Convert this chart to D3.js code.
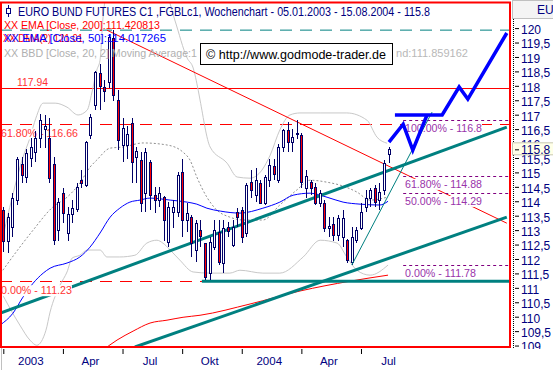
<!DOCTYPE html>
<html>
<head>
<meta charset="utf-8">
<script src="https://cdn.jsdelivr.net/npm/d3@7"></script>
<style>
  body { margin: 0; background: #fff; }
  svg { display: block; font-family: "Liberation Sans", Arial, sans-serif; }
</style>
</head>
<body>
<svg width="553" height="370"></svg>
<script>
// weekly candles, index 0 = week of 05.01.2003
const opens = [113.68,112.6,113.1,114.03,115.28,114.83,115.48,115.7,116.17,116.5,116.17,115.28,113.0,114.27,112.9,113.55,113.72,114.72,114.55,116.28,117.32,118.43,117.95,118.1,119.64,117.49,115.93,115.93,116.7,115.52,115.42,114.27,115.35,114.2,114.03,114.13,112.57,113.62,113.62,115.0,113.34,113.44,112.3,113.0,112.54,111.5,112.4,112.92,111.85,113.1,112.47,113.6,113.68,112.89,114.65,114.2,114.62,113.93,114.72,115.2,114.72,115.87,116.45,116.04,116.3,116.28,114.45,114.65,114.48,113.93,113.93,113.06,113.2,112.82,112.75,112.64,111.88,112.64,113.06,113.79,114.1,114.45,114.03,114.38,115.63];
const highs = [113.8,113.6,114.3,115.55,115.55,115.8,116.2,116.45,117.04,117.0,116.87,115.52,114.13,114.45,113.79,114.03,114.62,115.07,116.1,117.04,118.53,118.77,118.2,119.78,119.92,117.84,116.9,116.6,116.87,115.87,115.7,115.83,115.42,114.48,114.48,114.17,113.96,114.03,115.0,115.48,113.93,113.51,113.34,113.34,112.57,112.75,113.34,113.34,113.34,113.27,113.34,113.75,113.79,114.62,115.07,115.14,114.72,114.9,115.48,115.48,116.0,116.52,116.73,116.52,116.8,116.35,115.07,114.72,114.62,114.38,114.03,113.44,113.44,113.51,113.68,112.7,113.1,113.1,113.93,114.38,114.45,114.55,114.65,115.42,115.87];
const lows = [112.24,112.2,112.75,113.86,114.62,114.62,115.17,115.35,115.83,115.85,114.62,112.47,112.64,113.23,112.64,113.23,113.62,114.45,114.48,116.17,117.15,117.15,117.45,117.94,117.49,115.76,115.35,115.45,114.62,114.62,113.62,113.62,113.68,113.58,113.79,112.64,112.4,113.06,113.44,112.75,112.92,112.06,111.88,112.4,111.26,111.26,112.3,111.78,111.5,112.75,112.4,113.1,112.57,112.75,114.13,113.96,113.93,113.86,114.48,114.72,114.65,115.7,115.7,115.7,116.17,114.45,114.13,114.2,113.86,113.79,112.92,112.75,112.64,112.64,112.4,111.85,111.78,112.54,112.99,113.62,113.79,113.79,113.68,114.2,115.31];
const closes = [112.59,113.45,114.1,115.45,114.9,115.66,115.87,116.17,116.8,116.6,114.79,112.64,113.96,113.58,113.55,113.75,114.48,114.62,116.04,116.9,118.46,117.98,117.8,119.67,117.67,116.11,116.52,116.3,115.35,115.73,113.93,115.7,114.2,114.03,114.27,113.34,113.79,113.79,114.9,113.34,113.58,112.54,113.23,112.78,111.37,112.57,113.0,111.88,113.06,112.96,113.1,113.44,112.75,114.55,114.38,114.72,113.93,114.83,115.24,114.93,115.87,116.45,116.04,116.2,116.36,114.65,114.86,114.45,113.93,114.27,113.06,113.13,112.82,113.4,113.4,111.95,112.75,113.0,113.62,114.1,114.38,113.96,114.3,115.31,115.8];

// indicator lines as [week index, price]
const bbUpper = [[-0.7,112.31],[1.0,113.52],[2.6,114.56],[4.1,115.43],[5.8,116.19],[7.1,116.88],[8.7,117.4],[11.3,117.4],[13.9,117.26],[16.3,116.99],[18.3,117.16],[19.3,117.75],[20.4,118.55],[21.1,118.89],[21.7,120.28],[23.3,121.67],[29.8,122.01],[35.3,121.32],[37.4,120.28],[40.1,118.96],[41.4,118.62],[42.5,117.85],[42.9,117.51],[45.1,115.88],[48.8,115.32],[51.0,114.84],[53.8,114.8],[56.4,115.08],[58.2,115.6],[60.3,116.47],[62.5,116.99],[64.7,117.06],[69.1,117.06],[74.9,117.06],[79.3,116.81],[81.5,116.22],[83.7,116.01]];
const bbLower = [[-0.7,110.92],[3.6,109.71],[5.8,109.19],[7.3,109.01],[9.3,109.53],[10.2,110.16],[12.4,111.1],[13.9,111.55],[15.0,112.03],[16.7,112.13],[18.3,112.31],[21.1,112.31],[22.6,112.07],[25.4,112.07],[28.7,112.13],[31.3,112.55],[33.5,112.65],[34.8,112.55],[36.4,112.31],[38.5,111.96],[41.4,111.55],[45.1,111.51],[49.4,111.51],[51.6,111.61],[56.6,111.51],[60.3,111.51],[65.4,112.07],[69.1,112.65],[72.8,112.55],[74.9,112.07],[77.1,111.61],[80.0,111.44],[83.9,111.79]];
const bbMiddle = [[-0.1,111.61],[3.6,112.41],[6.5,113.0],[10.8,113.8],[13.9,114.14],[16.7,114.63],[18.9,115.18],[20.4,115.43],[23.3,115.84],[26.1,115.88],[30.5,116.02],[35.7,115.95],[39.2,115.7],[40.7,115.43],[42.2,114.84],[44.4,114.14],[46.6,113.69],[49.4,113.45],[52.3,113.35],[56.6,113.35],[60.3,113.87],[64.0,114.39],[66.9,114.73],[70.6,114.66],[73.4,114.56],[77.1,114.32],[80.0,114.04],[83.7,114.14]];
const ema50 = [[-0.7,109.71],[2.1,110.12],[4.3,110.68],[6.5,111.16],[8.7,111.51],[10.2,111.68],[13.9,111.86],[16.7,112.07],[18.9,112.41],[21.1,112.9],[23.3,113.45],[25.4,113.76],[27.6,113.97],[29.8,114.04],[32.0,114.11],[36.4,114.04],[40.1,113.97],[42.2,113.9],[44.4,113.76],[47.3,113.66],[51.6,113.59],[56.6,113.76],[60.3,113.97],[63.2,114.21],[66.9,114.28],[70.6,114.14],[74.1,113.97],[77.8,113.9],[82.1,113.87],[83.9,114.0]];
const ema200 = [[21.1,108.77],[24.8,109.19],[28.3,109.5],[32.0,109.78],[35.7,109.88],[39.2,109.98],[42.9,110.05],[53.8,110.44],[64.7,110.89],[75.6,111.23],[83.9,111.44]];

// drawn trend lines and forecast
const tealChannel = [[-0.7,110.12],[109.8,116.57]];
const tealLower = [[28.7,108.95],[109.8,113.45]];
const tealFlat = [[43.3,111.23],[110.5,111.23]];
const tealThin = [[76.0,111.79],[93.5,117.09]];
const redTrend = [[22.6,119.93],[109.8,113.24]];
const forecastA = [[84.1,116.05],[87.2,116.67],[89.3,115.77],[92.4,116.99]];
const forecastB = [[85.4,116.99],[95.7,116.99],[99.4,117.96],[101.3,117.54],[109.8,119.83]];

// horizontal levels
const redLevels = [117.94, 116.66, 111.23];
const redLabels = ["117.94", "61.80% - 116.66", "0.00% - 111.23"];
const tealLevel = 119.93;
const fibLevels = [116.8, 114.88, 114.29, 111.78];
const fibLabels = ["100.00% - 116.8", "61.80% - 114.88", "50.00% - 114.29", "0.00% - 111.78"];

const yTicks = d3.range(109, 120.01, 0.5);
const xTickIdx = [0, 13, 26, 39, 52, 65, 78];
const xTickLabels = ["2003", "Apr", "Jul", "Okt", "2004", "Apr", "Jul"];
const lastPrice = 115.8;

const svg = d3.select("svg");
const plot = { left: 1, top: 3, right: 510, bottom: 347 };

const x = d3.scaleLinear().domain([0, 84]).range([3.3, 388.5]);
const y = d3.scaleLinear().domain([108.95, 120.87]).range([347, 3]);

svg.append("defs").append("clipPath").attr("id", "plotclip")
   .append("rect")
   .attr("x", plot.left).attr("y", plot.top)
   .attr("width", plot.right - plot.left).attr("height", plot.bottom - plot.top);
svg.select("defs").append("clipPath").attr("id", "axisclip")
   .append("rect").attr("x", 511).attr("y", 19).attr("width", 42).attr("height", 330);

const g = svg.append("g").attr("clip-path", "url(#plotclip)");
const line = d3.line().x(d => x(d[0])).y(d => y(d[1]));
const curve = d3.line().x(d => x(d[0])).y(d => y(d[1])).curve(d3.curveMonotoneX);

// levels
g.append("line").attr("x1", 0).attr("x2", 511)
 .attr("y1", y(tealLevel)).attr("y2", y(tealLevel))
 .attr("stroke", "#008080").attr("stroke-dasharray", "12,8");
redLevels.forEach((v, i) => {
  g.append("line").attr("x1", 0).attr("x2", 511)
   .attr("y1", Math.round(y(v)) + 0.5).attr("y2", Math.round(y(v)) + 0.5)
   .attr("stroke", "#ff0000")
   .attr("stroke-dasharray", i === 0 ? null : "12,8");
});

// bollinger + emas
g.append("path").attr("d", curve(bbUpper)).attr("fill", "none").attr("stroke", "#c8c8c8");
g.append("path").attr("d", curve(bbLower)).attr("fill", "none").attr("stroke", "#c8c8c8");
g.append("path").attr("d", curve(bbMiddle)).attr("fill", "none").attr("stroke", "#909090").attr("stroke-dasharray", "2,2");
g.append("path").attr("d", curve(ema50)).attr("fill", "none").attr("stroke", "#0000ff");
g.append("path").attr("d", curve(ema200)).attr("fill", "none").attr("stroke", "#ff0000");

// trend lines
g.append("path").attr("d", line(redTrend)).attr("fill", "none").attr("stroke", "#ff0000");
[tealChannel, tealLower, tealFlat].forEach(t => {
  g.append("path").attr("d", line(t)).attr("fill", "none").attr("stroke", "#008080").attr("stroke-width", 3);
});

// fib levels (short dashes)
fibLevels.forEach(v => {
  g.append("line").attr("x1", x(87.2)).attr("x2", 511)
   .attr("y1", Math.round(y(v)) + 0.5).attr("y2", Math.round(y(v)) + 0.5)
   .attr("stroke", "#800080").attr("stroke-dasharray", "3,3");
});

// labels with white background
function label(txt, lx, ly, color, len, size) {
  const grp = g.append("g");
  const t = grp.append("text").attr("x", lx).attr("y", ly).attr("fill", color)
    .attr("font-size", size || 11).attr("textLength", len).attr("lengthAdjust", "spacingAndGlyphs")
    .text(txt);
  const b = t.node().getBBox();
  grp.insert("rect", "text").attr("x", b.x).attr("y", b.y + 1).attr("width", b.width).attr("height", b.height - 1).attr("fill", "#fff");
}
label(redLabels[0], 17, y(redLevels[0]) - 2, "#ff3333", 31);
label(redLabels[1], 1, y(redLevels[1]) + 13, "#ff3333", 77);
label(redLabels[2], 1, y(redLevels[2]) + 13, "#ff3333", 71);
fibLabels.forEach((s, i) => {
  label(s, 405, y(fibLevels[i]) + 12, "#9933aa", i === 3 ? 71 : 77);
});

// candles
const cg = g.append("g").attr("shape-rendering", "crispEdges");
closes.forEach((c, i) => {
  const cx = Math.round(x(i)) + 0.5;
  cg.append("line").attr("x1", cx).attr("x2", cx)
    .attr("y1", y(highs[i])).attr("y2", y(lows[i]))
    .attr("stroke", "#000066");
  const top = y(Math.max(opens[i], c)), bot = y(Math.min(opens[i], c));
  cg.append("rect").attr("x", cx - 1).attr("y", top)
    .attr("width", 2).attr("height", Math.max(1, bot - top))
    .attr("fill", c < opens[i] ? "#ff0000" : "#ffffff")
    .attr("stroke", "#000066");
});

g.append("path").attr("d", line(tealThin)).attr("fill", "none").attr("stroke", "#008080");

// forecast
[forecastA, forecastB].forEach(f => {
  g.append("path").attr("d", line(f)).attr("fill", "none").attr("stroke", "#0000ff")
   .attr("stroke-width", 3.5).attr("stroke-linejoin", "miter");
});

// legend texts
svg.append("text").attr("x", 4).attr("y", 57).attr("fill", "#b0b0b0").attr("font-size", 11.5)
   .attr("textLength", 193).attr("lengthAdjust", "spacingAndGlyphs")
   .text("XX BBD [Close, 20, 2] Moving Average:1");
svg.append("text").attr("x", 396).attr("y", 57).attr("fill", "#b8b8b8").attr("font-size", 11.5)
   .attr("textLength", 72).attr("lengthAdjust", "spacingAndGlyphs").text("nd:111.859162");
svg.append("text").attr("x", 4).attr("y", 29).attr("fill", "#ff0000").attr("font-size", 11.5)
   .attr("textLength", 156).attr("lengthAdjust", "spacingAndGlyphs").text("XX EMA [Close, 200]:111.420813");
svg.append("text").attr("x", 3).attr("y", 42).attr("fill", "#ff0000").attr("font-size", 11.5)
   .attr("textLength", 80).attr("lengthAdjust", "spacingAndGlyphs").text("XX DMA(2) 121.01");
svg.append("text").attr("x", 4).attr("y", 42).attr("fill", "#0000ff").attr("font-size", 11.5)
   .attr("textLength", 162).attr("lengthAdjust", "spacingAndGlyphs").text("XX EMA [Close, 50]:114.017265");

// copyright box
svg.append("rect").attr("x", 200.5).attr("y", 43.5).attr("width", 192).attr("height", 21)
   .attr("fill", "#fff").attr("stroke", "#000");
svg.append("text").attr("x", 206).attr("y", 59).attr("fill", "#000").attr("font-size", 13)
   .attr("textLength", 180).attr("lengthAdjust", "spacingAndGlyphs").text("\u00a9 http://www.godmode-trader.de");

// title
const icon = svg.append("g").attr("stroke", "#000080").attr("fill", "none");
icon.append("line").attr("x1", 8.5).attr("x2", 8.5).attr("y1", 5).attr("y2", 17);
icon.append("rect").attr("x", 6.5).attr("y", 8.5).attr("width", 4).attr("height", 5).attr("fill", "#fff");
svg.append("text").attr("x", 18).attr("y", 16).attr("fill", "#000080").attr("font-size", 12)
   .attr("textLength", 412).attr("lengthAdjust", "spacingAndGlyphs")
   .text("EURO BUND FUTURES C1 ,FGBLc1, Wochenchart - 05.01.2003 - 15.08.2004 - 115.8");

// plot frame
svg.append("rect").attr("x", 1).attr("y", 2.5).attr("width", 509).attr("height", 344.5)
   .attr("fill", "none").attr("stroke", "#ff0000").attr("stroke-width", 2);

// right axis
svg.append("rect").attr("x", 512.5).attr("y", 0.5).attr("width", 41).attr("height", 18)
   .attr("fill", "#f4f4f4").attr("stroke", "#c0c0c0");
svg.append("text").attr("x", 537).attr("y", 14).attr("fill", "#000080").attr("font-size", 12).text("EU");
svg.append("line").attr("x1", 513.5).attr("x2", 513.5).attr("y1", 19).attr("y2", 348)
   .attr("stroke", "#000").attr("stroke-dasharray", "1,1");

const yAxis = d3.axisRight(y).tickValues(yTicks).tickSize(4).tickPadding(2)
  .tickFormat(d => String(d).replace(".", ","));
const ya = svg.append("g").attr("clip-path", "url(#axisclip)")
  .append("g").attr("transform", "translate(515,0)").call(yAxis);
ya.select(".domain").remove();
ya.selectAll("text").attr("fill", "#000080").attr("font-size", 12).attr("dy", "0.45em")
  .attr("font-family", "Liberation Sans, Arial, sans-serif");
ya.selectAll("line").attr("stroke", "#000");

// last price box
const lp = svg.append("g");
lp.append("rect").attr("x", 512.5).attr("y", y(lastPrice) - 6.5).attr("width", 41).attr("height", 12)
  .attr("fill", "#ffffe8").attr("stroke", "#c8c8b0");
lp.append("line").attr("x1", 515).attr("x2", 519).attr("y1", y(lastPrice) + 0.5).attr("y2", y(lastPrice) + 0.5).attr("stroke", "#000");
lp.append("text").attr("x", 521).attr("y", y(lastPrice)).attr("dy", "0.4em").attr("fill", "#000080")
  .attr("font-size", 12).text(String(lastPrice));

// bottom axis
const xAxis = d3.axisBottom(x).tickValues(xTickIdx).tickSize(5).tickPadding(3)
  .tickFormat((d, i) => xTickLabels[i]);
const xa = svg.append("g").attr("transform", "translate(0,349)").call(xAxis);
xa.select(".domain").remove();
xa.selectAll("line").attr("stroke", "#000");
xa.selectAll("text").attr("fill", "#000080").attr("font-size", 11.5).attr("dx", 27)
  .attr("font-family", "Liberation Sans, Arial, sans-serif");
svg.append("line").attr("x1", 1.5).attr("x2", 1.5).attr("y1", 348).attr("y2", 370).attr("stroke", "#c0c0c0");
</script>
</body>
</html>
